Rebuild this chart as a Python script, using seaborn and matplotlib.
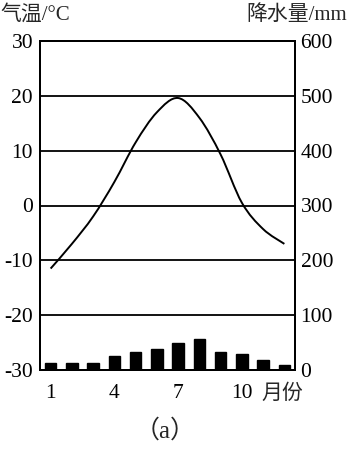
import matplotlib
matplotlib.use("Agg")
import matplotlib.pyplot as plt
from matplotlib import font_manager
from matplotlib.path import Path
from matplotlib.patches import PathPatch
import seaborn as sns
import pandas as pd
import numpy as np

months = list(range(1, 13))
temperature = [-11.5, -7.0, -2.0, 4.3, 11.5, 17.0, 19.6, 16.0, 9.3, 0.5, -4.3, -7.0]
precipitation = [13, 13, 13, 26, 33, 38, 49, 56, 33, 29, 18, 8.5]
temp_ticks = [-30, -20, -10, 0, 10, 20, 30]
prec_ticks = [0, 100, 200, 300, 400, 500, 600]
month_ticks = [1, 4, 7, 10]

sns.set_theme(style="white")


def pick(cands):
    for c in cands:
        try:
            font_manager.findfont(font_manager.FontProperties(family=c), fallback_to_default=False)
            return c
        except Exception:
            pass
    return "DejaVu Serif"


SERIF = pick(["Liberation Serif", "Noto Serif", "DejaVu Serif"])
CJK = "Noto Sans CJK SC"
plt.rcParams['font.family'] = [SERIF, CJK]
plt.rcParams['axes.unicode_minus'] = False

df = pd.DataFrame({"month": months, "temp": temperature, "prec": precipitation})

fig = plt.figure(figsize=(3.48, 4.49), dpi=100)
ax = fig.add_axes([40/348, 1-370/449, 255/348, 329/449])
ax2 = ax.twinx()

sns.barplot(data=df, x="month", y="prec", ax=ax2, native_scale=True,
            color="black", width=0.54, saturation=1, edgecolor="black")

# smooth temperature curve through the monthly values (Catmull-Rom as cubic Bezier)
x = np.array(months, dtype=float)
y = np.array(temperature, dtype=float)
verts = [(x[0], y[0])]
codes = [Path.MOVETO]
n = len(x)
for i in range(n - 1):
    p0 = (x[i-1], y[i-1]) if i > 0 else (x[i], y[i])
    p1 = (x[i], y[i])
    p2 = (x[i+1], y[i+1])
    p3 = (x[i+2], y[i+2]) if i + 2 < n else (x[i+1], y[i+1])
    c1 = (p1[0] + (p2[0]-p0[0])/6, p1[1] + (p2[1]-p0[1])/6)
    c2 = (p2[0] - (p3[0]-p1[0])/6, p2[1] - (p3[1]-p1[1])/6)
    verts += [c1, c2, p2]
    codes += [Path.CURVE4]*3
ax.add_patch(PathPatch(Path(verts, codes), facecolor="none", edgecolor="black",
                       linewidth=1.4, transform=ax.transData, zorder=3))

ax.set_xlim(0.5, 12.5)
ax.set_ylim(-30, 30)
ax2.set_ylim(0, 600)
ax.set_yticks(temp_ticks)
ax.set_yticklabels([str(t) for t in temp_ticks])
ax2.set_yticks(prec_ticks)
ax2.set_yticklabels([str(t) for t in prec_ticks])
ax.set_xticks(month_ticks)
ax.set_xticklabels([str(m) for m in month_ticks])
for t in temp_ticks[1:-1]:
    ax.axhline(t, color="black", linewidth=1.3, zorder=0)

for a in (ax, ax2):
    a.set_xlabel("")
    a.set_ylabel("")
    a.tick_params(length=0, labelsize=15.5, colors="black")
    for s in a.spines.values():
        s.set_color("black")
        s.set_linewidth(1.4)
ax.tick_params(axis="y", pad=5)
ax2.tick_params(axis="y", pad=4)
ax.tick_params(axis="x", pad=10)

fig.text(0/348, 1-15/449, "气温/°C", fontsize=15, ha="left", va="center",
         family=[SERIF, CJK])
fig.text(347/348, 1-15/449, "降水量/mm", fontsize=15, ha="right", va="center",
         family=[SERIF, CJK])
fig.text(282/348, 1-393/449, "月份", fontsize=15, ha="center", va="center",
         family=[CJK])
fig.text(165/348, 1-431/449, "（a）", fontsize=18, ha="center", va="center",
         family=[SERIF, CJK])

fig.savefig("out.png", dpi=100)
